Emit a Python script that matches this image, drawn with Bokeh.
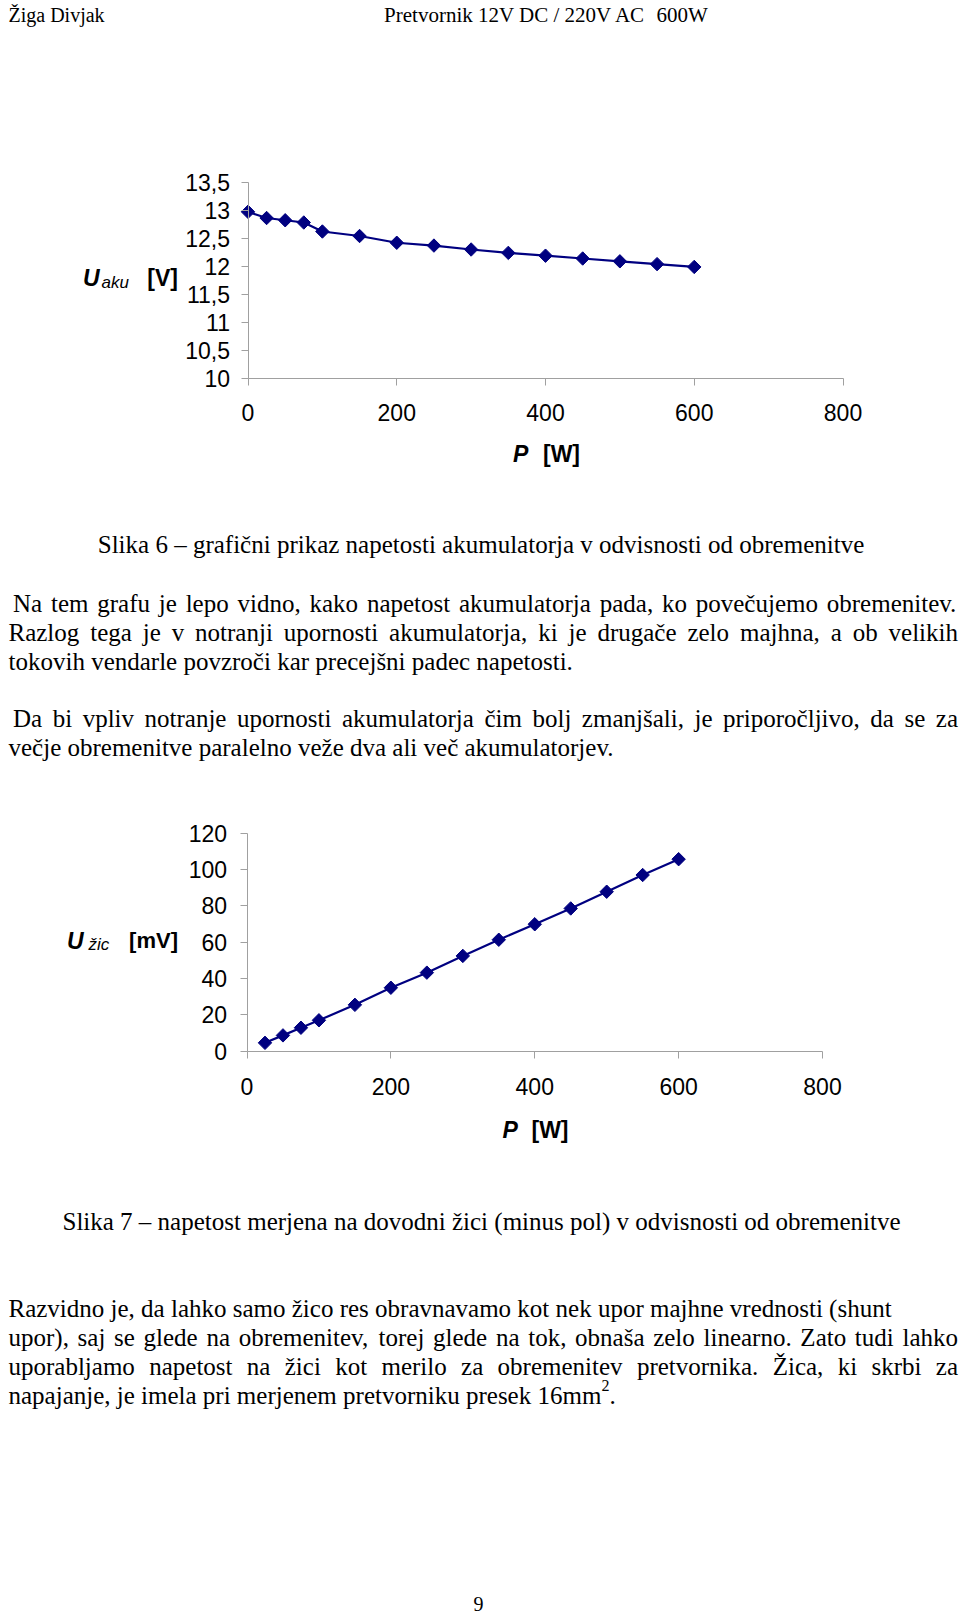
from bokeh.plotting import figure
from bokeh.models import Range1d, FixedTicker, LinearAxis
from bokeh.embed import file_html
from bokeh.resources import INLINE
from bokeh.core.properties import value
import math

# ---------------- data ----------------
P_aku = [0, 25, 50, 75, 100, 150, 200, 250, 300, 350, 400, 450, 500, 550, 600]
U_aku = [12.97, 12.86, 12.82, 12.78, 12.62, 12.54, 12.42, 12.37, 12.30, 12.24,
         12.19, 12.14, 12.09, 12.04, 11.99]
P_zic = [25, 50, 75, 100, 150, 200, 250, 300, 350, 400, 450, 500, 550, 600]
U_zic = [4.6, 8.7, 12.9, 17.0, 25.5, 34.9, 43.2, 52.4, 61.3, 69.8, 78.5, 87.7, 96.9, 105.6]

x_ticks = [0, 200, 400, 600, 800]
x_tick_labels = ["0", "200", "400", "600", "800"]
y1_ticks = [10, 10.5, 11, 11.5, 12, 12.5, 13, 13.5]
y1_tick_labels = ["10", "10,5", "11", "11,5", "12", "12,5", "13", "13,5"]
y2_ticks = [0, 20, 40, 60, 80, 100, 120]
y2_tick_labels = ["0", "20", "40", "60", "80", "100", "120"]

header_left = "Žiga Divjak"
header_right = ["Pretvornik 12V DC / 220V AC", "600W"]
caption6 = "Slika 6 – grafični prikaz napetosti akumulatorja v odvisnosti od obremenitve"
caption7 = "Slika 7 – napetost merjena na dovodni žici (minus pol) v odvisnosti od obremenitve"
para1 = [("Na tem grafu je lepo vidno, kako napetost akumulatorja pada, ko povečujemo obremenitev.", True, True),
         ("Razlog tega je v notranji upornosti akumulatorja, ki je drugače zelo majhna, a ob velikih", True, False),
         ("tokovih vendarle povzroči kar precejšni padec napetosti.", False, False)]
para2 = [("Da bi vpliv notranje upornosti akumulatorja čim bolj zmanjšali, je priporočljivo, da se za", True, True),
         ("večje obremenitve paralelno veže dva ali več akumulatorjev.", False, False)]
para3 = [("Razvidno je, da lahko samo žico res obravnavamo kot nek upor majhne vrednosti (shunt", False, False),
         ("upor), saj se glede na obremenitev, torej glede na tok, obnaša zelo linearno. Zato tudi lahko", True, False),
         ("uporabljamo napetost na žici kot merilo za obremenitev pretvornika. Žica, ki skrbi za", True, False),
         ("napajanje, je imela pri merjenem pretvorniku presek 16mm", False, False)]
page_no = "9"

# ---------------- page set-up ----------------
PW, PH = 960, 1615
SERIF = "Liberation Serif"
SANS = "Liberation Sans"
NAVY = "#000080"
AXIS_GRAY = "#a0a0a0"

TW = {' ': 250, 'a': 444, 'b': 500, 'c': 444, 'd': 500, 'e': 444, 'f': 333, 'g': 500, 'h': 500,
      'i': 278, 'j': 278, 'k': 500, 'l': 278, 'm': 778, 'n': 500, 'o': 500, 'p': 500, 'q': 500,
      'r': 333, 's': 389, 't': 278, 'u': 500, 'v': 500, 'w': 722, 'x': 500, 'y': 500, 'z': 444,
      'č': 444, 'š': 389, 'ž': 444, 'Ž': 611, 'Č': 667, 'Š': 556,
      'A': 722, 'B': 667, 'C': 667, 'D': 722, 'E': 611, 'F': 556, 'G': 722, 'H': 722, 'I': 333,
      'J': 389, 'K': 722, 'L': 611, 'M': 889, 'N': 722, 'O': 722, 'P': 556, 'Q': 722, 'R': 667,
      'S': 556, 'T': 611, 'U': 722, 'V': 722, 'W': 944, 'X': 722, 'Y': 722, 'Z': 611,
      ',': 250, '.': 250, '(': 333, ')': 333, '–': 500, '-': 333, '/': 278, ':': 278}


def tw(s, fs):
    return sum(TW.get(ch, 500) for ch in s) * fs / 1000.0


p = figure(width=PW, height=PH, x_range=Range1d(0, PW), y_range=Range1d(PH, 0),
           output_backend="svg", toolbar_location=None, min_border=0,
           x_axis_location=None, y_axis_location=None)
p.grid.visible = False
p.outline_line_color = None
p.background_fill_color = "white"
p.border_fill_color = "white"


def put(x, y, s, size, align="left", font=SERIF, style="normal"):
    p.text(x=[x], y=[y], text=[s], text_font=value(font), text_font_size=value(f"{size}px"),
           text_align=align, text_baseline="alphabetic", text_font_style=style,
           text_color="black")


BODY = 25
LEFT = 8.0
RIGHT = 957.5
INDENT = 12.5
STEP = 29.0


def paragraph(lines, y0):
    for k, (s, justify, indent) in enumerate(lines):
        y = y0 + k * STEP
        x0 = INDENT if indent else LEFT
        if justify:
            words = s.split(" ")
            nat = sum(tw(w_, BODY) for w_ in words)
            gap = (RIGHT - x0 - nat) / (len(words) - 1)
            xs = []
            x = x0
            for w_ in words:
                xs.append(x)
                x += tw(w_, BODY) + gap
            p.text(x=xs, y=[y] * len(words), text=words, text_font=value(SERIF),
                   text_font_size=value(f"{BODY}px"), text_align="left",
                   text_baseline="alphabetic", text_color="black")
        else:
            put(x0, y, s, BODY)


def x_map(p0, p1, d0, d1):
    s = (d1 - d0) / (p1 - p0)
    return Range1d(d0 - p0 * s, d0 + (PW - p0) * s)


def y_map(p_top, p_bot, d_top, d_bot):
    s = (d_top - d_bot) / (p_bot - p_top)
    return Range1d(d_bot - (PH - p_bot) * s, d_top + p_top * s)


def add_chart(name, xpix, ypix, ydom, yticks, ylabels, xs, ys, x_stand, y_stand):
    xn, yn = name + "x", name + "y"
    p.extra_x_ranges[xn] = x_map(xpix[0], xpix[1], 0, 800)
    p.extra_y_ranges[yn] = y_map(ypix[0], ypix[1], ydom[1], ydom[0])
    ax = LinearAxis(x_range_name=xn, y_range_name=yn, fixed_location=ydom[0],
                    bounds=(0, 800), ticker=FixedTicker(ticks=x_ticks),
                    major_label_overrides=dict(zip(x_ticks, x_tick_labels)),
                    major_label_standoff=x_stand)
    ay = LinearAxis(x_range_name=xn, y_range_name=yn, fixed_location=0,
                    bounds=ydom, ticker=FixedTicker(ticks=yticks),
                    major_label_overrides=dict(zip(yticks, ylabels)),
                    major_label_standoff=y_stand)
    for a in (ax, ay):
        a.axis_line_color = AXIS_GRAY
        a.major_tick_line_color = AXIS_GRAY
        a.minor_tick_line_color = None
        a.major_tick_in = 0
        a.major_tick_out = 7
        a.major_label_text_font = SANS
        a.major_label_text_font_size = "23px"
        a.major_label_text_color = "black"
    p.add_layout(ax, "below")
    p.add_layout(ay, "left")
    p.line(xs, ys, line_color=NAVY, line_width=2.2, x_range_name=xn, y_range_name=yn)
    p.scatter(xs, ys, marker="square", angle=math.pi / 4, size=9.5, fill_color=NAVY,
              line_color=NAVY, x_range_name=xn, y_range_name=yn)


# ---------------- header ----------------
put(8, 14, header_left, 20)
put(383.6, 14, header_right[0], 21)
put(383.6 + tw(header_right[0] + "  ", 21), 14, header_right[1], 21)

# ---------------- chart 1 ----------------
add_chart("c1", (247.5, 842.5), (181.5, 378.4), (10, 13.5), y1_ticks, y1_tick_labels,
          P_aku, U_aku, 18, 11)
put(82.5, 277, "U", 23, font=SANS, style="bold italic")
put(101, 282, "aku", 17, font=SANS, style="italic")
put(177.5, 277, "[V]", 23, align="right", font=SANS, style="bold")
put(512.5, 453, "P", 23, font=SANS, style="bold italic")
put(579.5, 453, "[W]", 23, align="right", font=SANS, style="bold")

# ---------------- text between ----------------
put(480.5, 544, caption6, BODY, align="center")
paragraph(para1, 602.5)
paragraph(para2, 718)

# ---------------- chart 2 ----------------
add_chart("c2", (246.5, 822.0), (832.5, 1050.7), (0, 120), y2_ticks, y2_tick_labels,
          P_zic, U_zic, 20, 13)
put(66.5, 940, "U", 23, font=SANS, style="bold italic")
put(88, 944, "žic", 17, font=SANS, style="italic")
put(177.5, 940, "[mV]", 22, align="right", font=SANS, style="bold")
put(502, 1129, "P", 23, font=SANS, style="bold italic")
put(568, 1129, "[W]", 23, align="right", font=SANS, style="bold")

# ---------------- text after ----------------
put(481, 1220.5, caption7, BODY, align="center")
paragraph(para3, 1308)
last = para3[-1][0]
y_last = 1308 + 3 * STEP
sup_x = LEFT + tw(last, BODY)
put(sup_x, y_last - 10, "2", 16)
put(sup_x + tw("2", 16), y_last, ".", BODY)
put(478, 1603, page_no, 20, align="center")

open("out.html", "w").write(file_html(p, INLINE))
